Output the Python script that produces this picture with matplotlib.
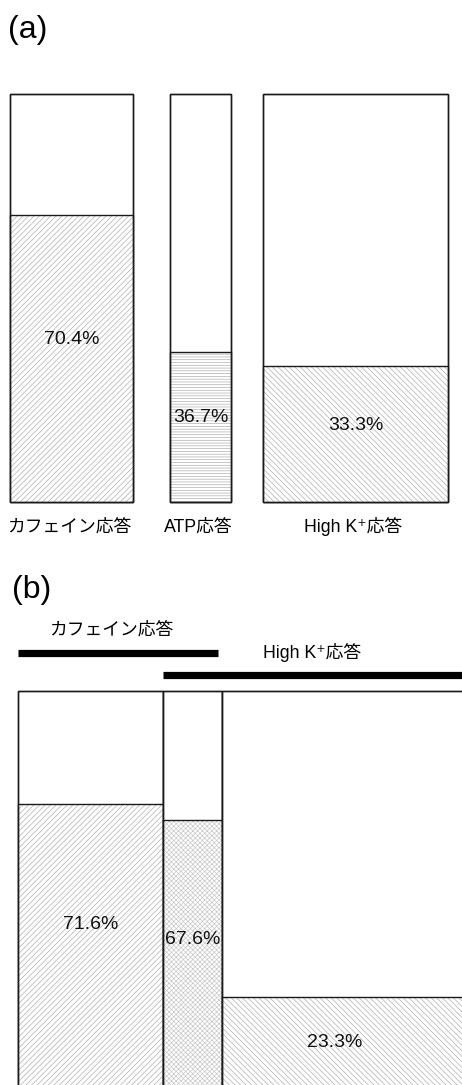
import matplotlib
matplotlib.use("Agg")
import matplotlib.pyplot as plt

plt.rcParams["font.family"] = ["Liberation Sans", "Noto Sans CJK JP", "DejaVu Sans"]
plt.rcParams["hatch.linewidth"] = 0.45

# data
a_labels = ["カフェイン応答", "ATP応答", "High K⁺応答"]
a_values = [70.4, 36.7, 33.3]
b_groups = ["カフェイン応答", "High K⁺応答"]
b_values = [71.6, 67.6, 23.3]

W, H = 462, 1085
fig = plt.figure(figsize=(W / 100, H / 100), dpi=100)
fig.patch.set_facecolor("white")

HATCH_GRAY = "#a8a8a8"
EDGE = "#1a1a1a"


def stacked(ax, x, w, value, hatch, text_y, hcol=HATCH_GRAY):
    ax.bar(x, 100, w, color="white", edgecolor=EDGE, linewidth=1.0, clip_on=False)
    ax.bar(x, value, w, color="white", edgecolor=hcol, hatch=hatch,
           linewidth=0, clip_on=False)
    ax.bar(x, value, w, fill=False, edgecolor=EDGE, linewidth=1.0, clip_on=False)
    ax.bar(x, 100, w, fill=False, edgecolor=EDGE, linewidth=1.0, clip_on=False)
    ax.text(x, text_y, f"{value}%", ha="center", va="center", fontsize=14,
            color="#111111")


# ---- panel (a)
top_a, bot_a = 94, 502
ax_a = fig.add_axes([0, (H - bot_a) / H, 1, (bot_a - top_a) / H])
ax_a.set_xlim(0, W)
ax_a.set_ylim(0, 100)
ax_a.axis("off")

a_x = [71.5, 200.5, 355.5]
a_w = [123, 61, 185]
a_hatch = ["//////", "------", "\\\\\\\\\\\\"]
a_text_frac = [0.565, 0.565, 0.565]
for i, v in enumerate(a_values):
    stacked(ax_a, a_x[i], a_w[i], v, a_hatch[i], v * a_text_frac[i])
    ax_a.text(a_x[i] - 2, -6.1, a_labels[i], ha="center", va="center", fontsize=12.8)

fig.text(8 / W, 1 - 30 / H, "(a)", fontsize=23, ha="left", va="center")

# ---- panel (b)
top_b, bot_b = 691, 1090
ax_b = fig.add_axes([0, (H - bot_b) / H, 1, (bot_b - top_b) / H])
ax_b.set_xlim(0, W)
ax_b.set_ylim(0, 100)
ax_b.axis("off")

b_x = [90.5, 192.5, 350]
b_w = [145, 59, 256]
b_hatch = ["//////", "xxxxxxx", "\\\\\\\\\\\\"]
b_hcol = [HATCH_GRAY, "#c4c4c4", HATCH_GRAY]
b_text_y = [41.4, 37.6, 12.0]
for i, v in enumerate(b_values):
    stacked(ax_b, b_x[i], b_w[i], v, b_hatch[i], b_text_y[i], b_hcol[i])
# last label sits left of centre because the mosaic is cut at the right edge
ax_b.texts[-1].set_x(335)

px = 100 / (bot_b - top_b)
ax_b.plot([18, 218], [100 + 38 * px] * 2, color="black", lw=5.2,
          solid_capstyle="butt", clip_on=False)
ax_b.plot([163, 470], [100 + 16 * px] * 2, color="black", lw=5.2,
          solid_capstyle="butt", clip_on=False)
ax_b.text(111, 100 + 61 * px, b_groups[0], ha="center", va="center", fontsize=12.8)
ax_b.text(312, 100 + 38 * px, b_groups[1], ha="center", va="center", fontsize=12.8)

fig.text(12 / W, 1 - 590 / H, "(b)", fontsize=23, ha="left", va="center")

fig.savefig("out.png", dpi=100, facecolor="white")
